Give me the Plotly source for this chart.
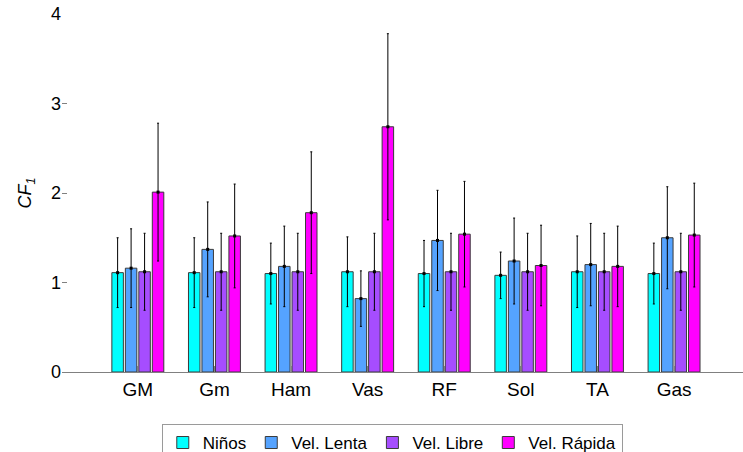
import plotly.graph_objects as go

# Muscles (x categories)
muscles = ["GM", "Gm", "Ham", "Vas", "RF", "Sol", "TA", "Gas"]

# Condition series: mean CF1 and standard deviation per muscle
series_names = ["Niños", "Vel. Lenta", "Vel. Libre", "Vel. Rápida"]
ninos_mean = [1.11, 1.11, 1.10, 1.12, 1.10, 1.08, 1.12, 1.10]
ninos_sd = [0.39, 0.39, 0.34, 0.39, 0.37, 0.26, 0.40, 0.34]
lenta_mean = [1.16, 1.37, 1.18, 0.82, 1.47, 1.24, 1.20, 1.50]
lenta_sd = [0.44, 0.53, 0.45, 0.31, 0.56, 0.48, 0.46, 0.57]
libre_mean = [1.12, 1.12, 1.12, 1.12, 1.12, 1.12, 1.12, 1.12]
libre_sd = [0.43, 0.43, 0.43, 0.43, 0.43, 0.43, 0.43, 0.43]
rapida_mean = [2.01, 1.52, 1.78, 2.74, 1.54, 1.19, 1.18, 1.53]
rapida_sd = [0.77, 0.58, 0.68, 1.04, 0.59, 0.45, 0.45, 0.58]

means = [ninos_mean, lenta_mean, libre_mean, rapida_mean]
sds = [ninos_sd, lenta_sd, libre_sd, rapida_sd]
colors = ["#00FFFF", "#55A3FF", "#A64DFF", "#FF00FF"]

y_ticks = [0, 1, 2, 3, 4]

slot = 0.176       # spacing between bars inside a group
bar_w = 0.150      # bar width in category units
n_series = len(series_names)

fig = go.Figure()
positions = list(range(1, len(muscles) + 1))

for j, name in enumerate(series_names):
    off = (j - (n_series - 1) / 2) * slot
    xs = [p + off for p in positions]
    fig.add_trace(go.Bar(
        x=xs, y=means[j], width=bar_w, name=name,
        marker=dict(color=colors[j], line=dict(color="#3a3a3a", width=1)),
        error_y=dict(type="data", array=sds[j], visible=True,
                     color="black", thickness=1, width=1),
    ))
    # small dot at the mean, as drawn by the error-bar routine
    fig.add_trace(go.Scatter(
        x=xs, y=means[j], mode="markers", showlegend=False, hoverinfo="skip",
        marker=dict(symbol="square", size=3, color="black"),
    ))

fig.update_layout(
    width=743, height=452,
    margin=dict(l=62, r=0, t=14, b=80, autoexpand=False),
    plot_bgcolor="white", paper_bgcolor="white",
    barmode="overlay",
    font=dict(family="Liberation Sans, Arial, sans-serif", size=18, color="black"),
    showlegend=True,
    legend=dict(
        orientation="h", xref="paper", x=0.485, xanchor="center",
        yref="container", y=0.062, yanchor="top",
        bordercolor="#9a9a9a", borderwidth=1, bgcolor="white",
        font=dict(size=17), itemwidth=30, tracegroupgap=0,
    ),
)

fig.update_xaxes(
    range=[0.01, 8.9], tickvals=positions, ticktext=muscles,
    ticks="inside", ticklen=6, tickcolor="#808080",
    showline=True, linecolor="#808080", linewidth=1,
    showgrid=False, zeroline=False,
    tickfont=dict(size=19),
)

fig.update_yaxes(
    range=[0, 4], tickvals=y_ticks,
    ticks="inside", ticklen=5, tickcolor="#808080",
    showline=False, showgrid=False, zeroline=False,
    tickfont=dict(size=18),
    title=dict(text="<i>CF</i><sub><i>1</i></sub>", font=dict(size=18), standoff=14),
)

fig.write_html("out.html")
